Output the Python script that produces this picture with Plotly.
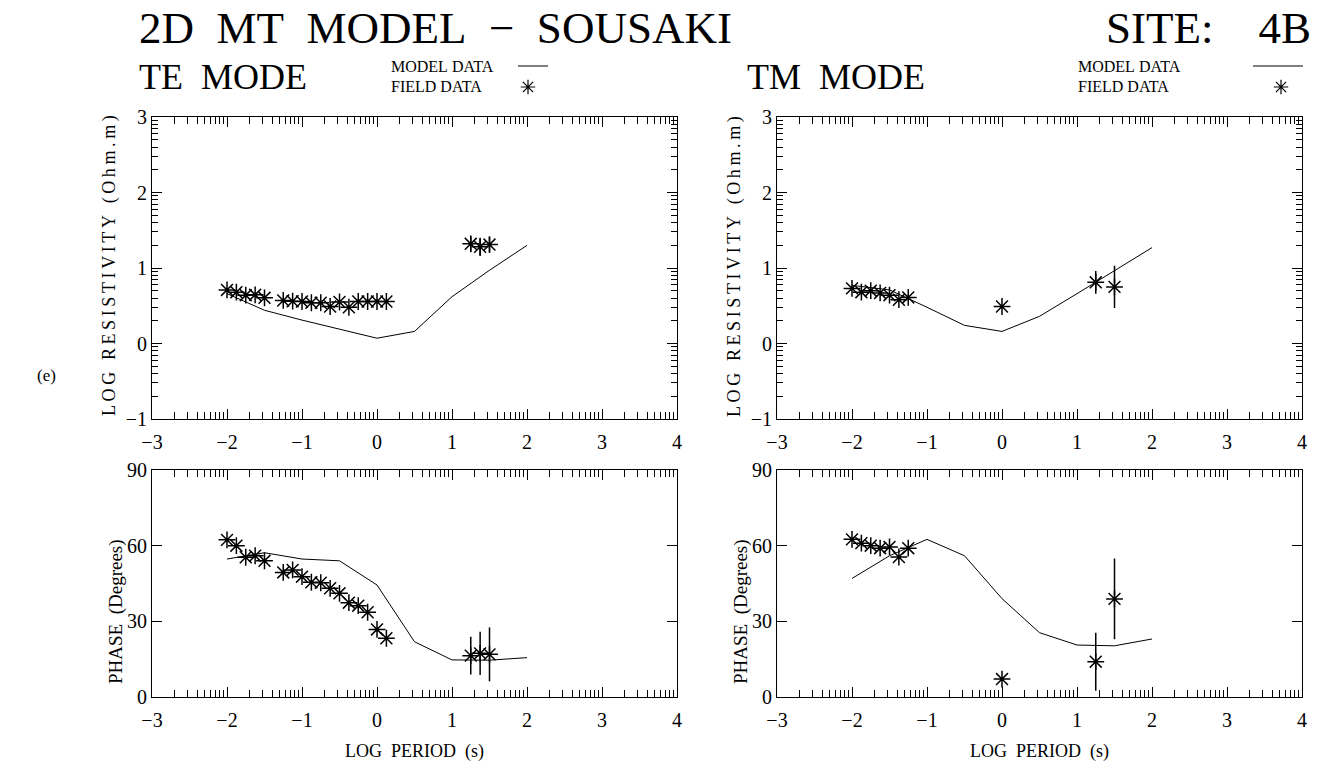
import plotly.graph_objects as go
import numpy as np

FONT = "Liberation Serif"

# ---------------- data ----------------
# TE mode field data (log period, log resistivity, phase)
te_period = [-2.0, -1.875, -1.75, -1.625, -1.5, -1.25, -1.125, -1.0, -0.875, -0.75,
             -0.625, -0.5, -0.375, -0.25, -0.125, 0.0, 0.125, 1.25, 1.375, 1.5]
te_rho = [0.71, 0.68, 0.64, 0.645, 0.605, 0.57, 0.56, 0.556, 0.54, 0.54,
          0.49, 0.55, 0.48, 0.556, 0.556, 0.556, 0.556, 1.32, 1.28, 1.31]
te_rho_err = [0] * 17 + [0.10, 0.12, 0.10]
te_phase = [62.3, 60.0, 55.4, 56.0, 54.0, 49.4, 50.4, 47.7, 45.5, 45.3,
            43.1, 41.1, 37.4, 36.2, 33.6, 26.8, 23.3, 16.4, 17.3, 16.9]
te_phase_err = [0] * 17 + [7.5, 8.6, 10.7]

# TE mode model response
te_model_period = [-2.0, -1.5, -1.0, -0.5, 0.0, 0.5, 1.0, 1.5, 2.0]
te_model_rho = [0.66, 0.44, 0.31, 0.19, 0.07, 0.16, 0.62, 0.97, 1.30]
te_model_phase = [54.7, 57.2, 54.7, 54.0, 44.4, 21.9, 14.7, 14.6, 15.6]

# TM mode field data
tm_period = [-2.0, -1.875, -1.75, -1.625, -1.5, -1.375, -1.25, 0.0, 1.25, 1.5]
tm_rho = [0.73, 0.68, 0.70, 0.67, 0.64, 0.58, 0.61, 0.49, 0.81, 0.75]
tm_rho_err = [0] * 8 + [0.15, 0.28]
tm_phase = [62.5, 61.0, 60.0, 59.0, 59.5, 55.5, 59.0, 7.1, 14.0, 38.9]
tm_phase_err = [0] * 8 + [11.5, 16.0]

# TM mode model response
tm_model_period = [-2.0, -1.5, -1.0, -0.5, 0.0, 0.5, 1.0, 1.5, 2.0]
tm_model_rho = [0.77, 0.71, 0.48, 0.24, 0.16, 0.36, 0.66, 0.97, 1.27]
tm_model_phase = [47.0, 56.0, 62.5, 56.0, 39.0, 25.5, 20.6, 20.3, 23.0]

x_ticks = [-3, -2, -1, 0, 1, 2, 3, 4]
rho_ticks = [-1, 0, 1, 2, 3]
phase_ticks = [0, 30, 60, 90]

# ---------------- layout helpers ----------------
W, H = 1320, 773


def fx(px):
    return px / W


def fy(py):
    return 1 - py / H


def lab(v):
    return ("\u2212" + str(abs(v))) if v < 0 else str(v)


THIN = "\u2009"
NB = "\u00a0"


def spaced(s):
    return THIN.join(ch if ch != " " else NB for ch in s)


x_minor = [float(n + np.log10(k)) for n in range(-3, 4) for k in range(2, 10)]
rho_minor = [float(n + np.log10(k)) for n in range(-1, 3) for k in range(2, 10)]

TE_DOM = [fx(152), fx(677)]
TM_DOM = [fx(777), fx(1302)]
RHO_DOM = [fy(419), fy(117)]
PH_DOM = [fy(697), fy(470)]

tickfont = dict(family=FONT, size=20, color="black")
titlefont = dict(family=FONT, size=18, color="black")


def xaxis(domain, anchor, title=None):
    d = dict(domain=domain, anchor=anchor, range=[-3, 4], tickmode="array",
             tickvals=x_ticks, ticktext=[lab(v) for v in x_ticks],
             ticks="inside", ticklen=10, tickwidth=1, tickcolor="black",
             showline=True, linecolor="black", linewidth=1, mirror="allticks",
             showgrid=False, zeroline=False, tickfont=tickfont, automargin=False,
             ticklabelstandoff=5,
             minor=dict(tickmode="array", tickvals=x_minor, ticks="inside",
                        ticklen=7, tickwidth=1, tickcolor="black", showgrid=False))
    if title:
        d["title"] = dict(text=title, font=titlefont, standoff=14)
    return d


def yaxis_rho(domain, anchor):
    return dict(domain=domain, anchor=anchor, range=[-1, 3], tickmode="array",
                tickvals=rho_ticks, ticktext=[lab(v) for v in rho_ticks],
                ticks="inside", ticklen=10, tickwidth=1, tickcolor="black",
                showline=True, linecolor="black", linewidth=1, mirror="allticks",
                showgrid=False, zeroline=False, tickfont=tickfont, automargin=False,
                ticklabelstandoff=0,
                minor=dict(tickmode="array", tickvals=rho_minor, ticks="inside",
                           ticklen=6, tickwidth=1, tickcolor="black", showgrid=False))


def yaxis_phase(domain, anchor):
    return dict(domain=domain, anchor=anchor, range=[0, 90], tickmode="array",
                tickvals=phase_ticks, ticktext=[str(v) for v in phase_ticks],
                ticks="inside", ticklen=10, tickwidth=1, tickcolor="black",
                showline=True, linecolor="black", linewidth=1, mirror="allticks",
                showgrid=False, zeroline=False, tickfont=tickfont, automargin=False,
                ticklabelstandoff=0)


fig = go.Figure()

STAR = dict(symbol="asterisk-open", size=14, color="black",
            line=dict(color="black", width=1.5))


def add_panel(xa, ya, mper, mval, per, val, err):
    fig.add_trace(go.Scatter(x=mper, y=mval, mode="lines",
                             line=dict(color="black", width=1),
                             xaxis=xa, yaxis=ya, showlegend=False))
    fig.add_trace(go.Scatter(x=per, y=val, mode="markers", marker=STAR,
                             error_y=dict(type="data", array=err, visible=True,
                                          width=0, thickness=1.5, color="black"),
                             xaxis=xa, yaxis=ya, showlegend=False))


add_panel("x", "y", te_model_period, te_model_rho, te_period, te_rho, te_rho_err)
add_panel("x2", "y2", tm_model_period, tm_model_rho, tm_period, tm_rho, tm_rho_err)
add_panel("x3", "y3", te_model_period, te_model_phase, te_period, te_phase, te_phase_err)
add_panel("x4", "y4", tm_model_period, tm_model_phase, tm_period, tm_phase, tm_phase_err)

# legend star samples (overlay axes in page pixels)
fig.add_trace(go.Scatter(x=[528, 1281], y=[87, 87], mode="markers",
                         marker=dict(symbol="asterisk-open", size=12, color="black",
                                     line=dict(color="black", width=1.2)),
                         xaxis="x5", yaxis="y5", showlegend=False))

fig.update_layout(
    width=W, height=H, autosize=False,
    margin=dict(l=0, r=0, t=0, b=0, pad=0),
    paper_bgcolor="white", plot_bgcolor="rgba(0,0,0,0)",
    showlegend=False,
    xaxis=xaxis(TE_DOM, "y"),
    yaxis=yaxis_rho(RHO_DOM, "x"),
    xaxis2=xaxis(TM_DOM, "y2"),
    yaxis2=yaxis_rho(RHO_DOM, "x2"),
    xaxis3=xaxis(TE_DOM, "y3", f"LOG{NB}{NB}PERIOD{NB}{NB}(s)"),
    yaxis3=yaxis_phase(PH_DOM, "x3"),
    xaxis4=xaxis(TM_DOM, "y4", f"LOG{NB}{NB}PERIOD{NB}{NB}(s)"),
    yaxis4=yaxis_phase(PH_DOM, "x4"),
    xaxis5=dict(domain=[0, 1], range=[0, W], visible=False, anchor="y5",
                automargin=False, fixedrange=True),
    yaxis5=dict(domain=[0, 1], range=[H, 0], visible=False, anchor="x5",
                automargin=False, fixedrange=True),
)


def ann(text, x, y, size, xanchor="left", family=FONT, angle=0):
    fig.add_annotation(text=text, x=fx(x), y=fy(y), xref="paper", yref="paper",
                       xanchor=xanchor, yanchor="middle", showarrow=False,
                       textangle=angle, borderpad=0,
                       font=dict(family=family, size=size, color="black"))


ann(f"2D{NB*2}MT{NB*2}MODEL{NB*2}\u2212{NB*2}SOUSAKI", 138, 28, 45)
ann(f"SITE:{NB*4}4B", 1312, 28, 45, xanchor="right")
ann(f"TE{NB*2}MODE", 138, 77, 36)
ann(f"TM{NB*2}MODE", 746, 77, 36)
ann(f"MODEL{NB}DATA", 390, 66, 16)
ann(f"FIELD{NB}DATA", 390, 87, 16)
ann(f"MODEL{NB}DATA", 1077, 66, 16)
ann(f"FIELD{NB}DATA", 1077, 87, 16)
ann("(e)", 36, 375, 17, family="Liberation Serif")

# rotated y-axis titles
for x_axis_px in (152, 777):
    ann(spaced("LOG RESISTIVITY (Ohm.m)"), x_axis_px - 42, 266, 18,
        xanchor="center", angle=-90)
    ann(f"PHASE{NB}{NB}(Degrees)", x_axis_px - 36, 612, 19,
        xanchor="center", angle=-90)

# legend line samples
for x0, x1 in [(518, 548), (1253, 1303)]:
    fig.add_shape(type="line", xref="paper", yref="paper",
                  x0=fx(x0), x1=fx(x1), y0=fy(66), y1=fy(66),
                  line=dict(color="black", width=1))

fig.write_html("out.html",
               config={"displayModeBar": False, "staticPlot": True},
               post_script="document.body.style.margin='0px';"
                           "document.body.style.overflow='hidden';")
